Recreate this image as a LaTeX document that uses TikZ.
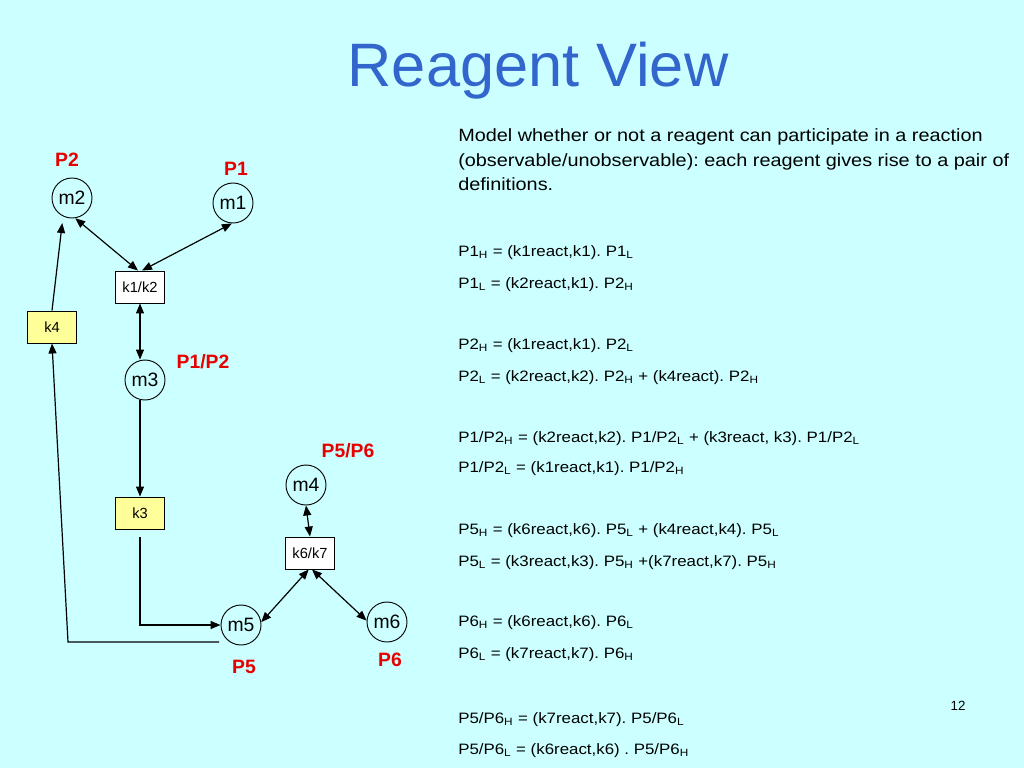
\documentclass[tikz,border=0pt]{standalone}
\usepackage{fontspec}
\setmainfont{Liberation Sans}
\newfontfamily\widefont[FakeStretch=1.12]{Liberation Sans}
\usetikzlibrary{arrows.meta}
\definecolor{bg}{HTML}{CCFFFF}
\definecolor{titleblue}{HTML}{3366CC}
\definecolor{lblred}{HTML}{E60000}
\definecolor{kyellow}{HTML}{FFFF99}
\tikzset{
  place/.style={circle, draw, line width=0.7pt, minimum size=30pt, inner sep=0pt, font=\fontsize{14.5}{16}\selectfont},
  trans/.style={rectangle, draw, line width=0.7pt, minimum width=36.75pt, minimum height=24pt, inner sep=0pt, font=\fontsize{11}{12}\selectfont},
  yellowbox/.style={trans, fill=kyellow},
  whitebox/.style={trans, fill=white},
  plabel/.style={text=lblred, font=\fontsize{14.5}{16}\selectfont\bfseries},
  desc/.style={anchor=base west, inner sep=0pt, font=\widefont\fontsize{13.3}{16}\selectfont},
  eq/.style={anchor=base west, inner sep=0pt, font=\widefont\fontsize{11.3}{14}\selectfont},
  conn/.style={line width=0.9pt, -{Triangle[length=7.5pt,width=6pt]}},
  biconn/.style={line width=0.9pt, {Triangle[length=7.5pt,width=6pt]}-{Triangle[length=7.5pt,width=6pt]}},
}
\begin{document}
\frenchspacing
\begin{tikzpicture}[x=0.75pt,y=-0.75pt]
\fill[bg] (0,0) rectangle (1024,768);
\useasboundingbox (0,0) rectangle (1024,768);

% title
\node[anchor=base, text=titleblue, font=\fontsize{46}{50}\selectfont, inner sep=0pt] (title) at (538,86) {Reagent View};

% places
\node[place] (m2) at (72,198) {m2};
\node[place] (m1) at (233,203) {m1};
\node[place] (m3) at (145,380) {m3};
\node[place] (m4) at (306,485) {m4};
\node[place] (m5) at (241,625) {m5};
\node[place] (m6) at (387,622) {m6};

% transitions
\node[whitebox] (k12) at (140,287) {k1/k2};
\node[yellowbox] (k4) at (52,327) {k4};
\node[yellowbox] (k3) at (140,513) {k3};
\node[whitebox] (k67) at (310,553) {k6/k7};

% labels
\node[plabel] (lP2) at (67,160) {P2};
\node[plabel] (lP1) at (236,169) {P1};
\node[plabel] (lP12) at (203,362) {P1/P2};
\node[plabel] (lP56) at (348,451) {P5/P6};
\node[plabel] (lP5) at (244,667) {P5};
\node[plabel] (lP6) at (390,660) {P6};

% connectors
\draw[biconn] (m2.-81) -- ([xshift=-1.5pt]k12.north);
\draw[biconn] (m1.-93) -- ([xshift=1.5pt]k12.north);
\draw[biconn] (k12.south) -- (k12.south |- m3.north);
\draw[conn] (k12.south |- m3.south) -- (k3.north);
\coordinate (k3out) at ([yshift=-6pt]k3.south);
\draw[conn] (k3out) -- (k3out |- m5.west) -- (m5.west);
\coordinate (turn) at (68,642);
\draw[conn] ([xshift=-1pt]m5.west |- turn) -- (turn) -- (k4.south);
\draw[conn, shorten >=5pt] (k4.north) -- (m2.-116);
\draw[biconn] (m4.south) -- (k67.north);
\draw[biconn] ([xshift=-1pt]k67.south) -- (m5.8);
\draw[biconn] ([xshift=1.5pt]k67.south) -- (m6.176);

% right text
\node[desc] (d1) at (458,141) {Model whether or not a reagent can participate in a reaction};
\node[desc] (d2) at (458,166) {(observable/unobservable): each reagent gives rise to a pair of};
\node[desc] (d3) at (458,190) {definitions.};

\node[eq] (e1) at (458,256) {P1\textsubscript{H} = (k1react,k1). P1\textsubscript{L}};
\node[eq] (e2) at (458,288) {P1\textsubscript{L} = (k2react,k1). P2\textsubscript{H}};
\node[eq] (e3) at (458,349) {P2\textsubscript{H} = (k1react,k1). P2\textsubscript{L}};
\node[eq] (e4) at (458,381) {P2\textsubscript{L} = (k2react,k2). P2\textsubscript{H} + (k4react). P2\textsubscript{H}};
\node[eq] (e5) at (458,442) {P1/P2\textsubscript{H} = (k2react,k2). P1/P2\textsubscript{L} + (k3react, k3). P1/P2\textsubscript{L}};
\node[eq] (e6) at (458,472) {P1/P2\textsubscript{L} = (k1react,k1). P1/P2\textsubscript{H}};
\node[eq] (e7) at (458,534) {P5\textsubscript{H} = (k6react,k6). P5\textsubscript{L} + (k4react,k4). P5\textsubscript{L}};
\node[eq] (e8) at (458,566) {P5\textsubscript{L} = (k3react,k3). P5\textsubscript{H} +(k7react,k7). P5\textsubscript{H}};
\node[eq] (e9) at (458,626) {P6\textsubscript{H} = (k6react,k6). P6\textsubscript{L}};
\node[eq] (e10) at (458,658) {P6\textsubscript{L} = (k7react,k7). P6\textsubscript{H}};
\node[eq] (e11) at (458,723) {P5/P6\textsubscript{H} = (k7react,k7). P5/P6\textsubscript{L}};
\node[eq] (e12) at (458,754) {P5/P6\textsubscript{L} = (k6react,k6) . P5/P6\textsubscript{H}};

\node[font=\fontsize{10}{11}\selectfont] (pg) at (958,706) {12};
\end{tikzpicture}
\end{document}
